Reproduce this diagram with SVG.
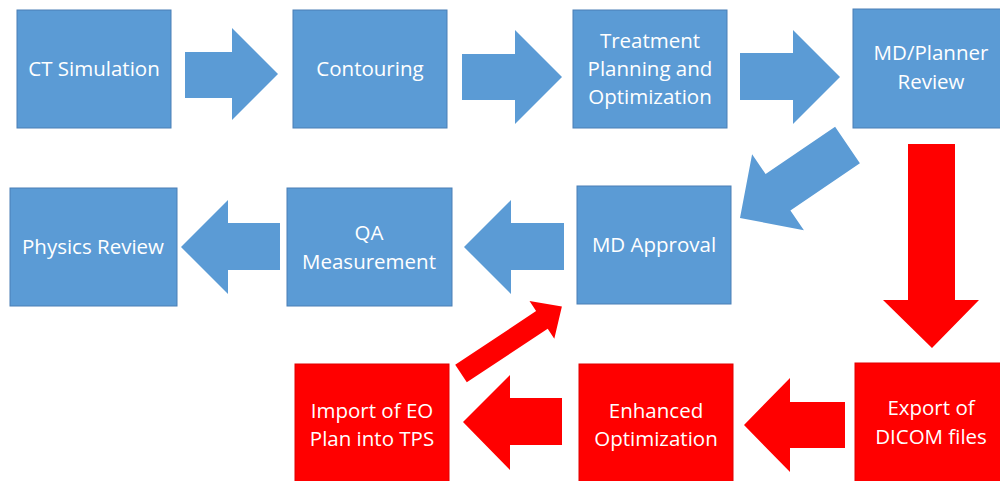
<svg xmlns="http://www.w3.org/2000/svg" width="1000" height="481" viewBox="0 0 1000 481">
  <style>
    .blue { fill: #5B9BD5; stroke: #4A7FB5; stroke-width: 1; }
    .red { fill: #FF0000; stroke: #E00000; stroke-width: 1; }
    .arrow-blue { fill: #5B9BD5; }
    .arrow-red { fill: #FF0000; }
    .label { font-family: "Open Sans", "Noto Sans", sans-serif; font-size: 20.5px; fill: #FFFFFF; text-anchor: middle; }
  </style>
  <rect width="1000" height="481" fill="#FFFFFF"/>

  <!-- connectors: block arrows -->
  <g id="connectors">
    <polygon class="arrow-blue" points="185,52 232,52 232,28 278,74 232,120 232,98 185,98"/>
    <polygon class="arrow-blue" points="462,54 515,54 515,30 562,77 515,124 515,100 462,100"/>
    <polygon class="arrow-blue" points="740,53 793,53 793,30 840,77 793,124 793,100 740,100"/>
    <polygon class="arrow-blue" points="835.1,126.8 765.6,174 752.1,154.2 740,218 803.9,230.2 790.4,210.4 859.9,163.2"/>
    <polygon class="arrow-blue" points="564,223 511,223 511,200 464,247 511,294 511,270 564,270"/>
    <polygon class="arrow-blue" points="280,223 228,223 228,200 181,247 228,294 228,270 280,270"/>
    <polygon class="arrow-red" points="908,144 955,144 955,300 979,300 932,348 883,300 908,300"/>
    <polygon class="arrow-red" points="845,402 790,402 790,378 744,425 790,472 790,448 845,448"/>
    <polygon class="arrow-red" points="562,398 510,398 510,375 463,422 510,470 510,445 562,445"/>
    <polygon class="arrow-red" points="455.2,364.7 536.1,311.1 529.5,301.1 561.9,306.6 554.3,338.7 547.7,328.7 466.8,382.3"/>
  </g>

  <!-- blue process steps -->
  <g id="ct-simulation">
    <rect class="blue" x="17" y="10" width="154" height="118"/>
    <text class="label" x="94" y="76">CT Simulation</text>
  </g>
  <g id="contouring">
    <rect class="blue" x="293" y="10" width="154" height="118"/>
    <text class="label" x="370" y="76">Contouring</text>
  </g>
  <g id="treatment-planning">
    <rect class="blue" x="573" y="10" width="154" height="118"/>
    <text class="label" x="650" y="48">Treatment</text>
    <text class="label" x="650" y="76">Planning and</text>
    <text class="label" x="650" y="104">Optimization</text>
  </g>
  <g id="md-planner-review">
    <rect class="blue" x="853" y="9" width="154" height="119"/>
    <text class="label" x="931" y="60">MD/Planner</text>
    <text class="label" x="931" y="89">Review</text>
  </g>
  <g id="md-approval">
    <rect class="blue" x="577" y="186" width="154" height="118"/>
    <text class="label" x="654" y="252">MD Approval</text>
  </g>
  <g id="qa-measurement">
    <rect class="blue" x="287" y="188" width="165" height="118"/>
    <text class="label" x="369" y="240">QA</text>
    <text class="label" x="369" y="269">Measurement</text>
  </g>
  <g id="physics-review">
    <rect class="blue" x="10" y="188" width="167" height="118"/>
    <text class="label" x="93" y="254">Physics Review</text>
  </g>

  <!-- red enhanced-optimization steps -->
  <g id="export-dicom">
    <rect class="red" x="855" y="363" width="152" height="125"/>
    <text class="label" x="931" y="415">Export of</text>
    <text class="label" x="931" y="444">DICOM files</text>
  </g>
  <g id="enhanced-optimization">
    <rect class="red" x="579" y="364" width="154" height="124"/>
    <text class="label" x="656" y="418">Enhanced</text>
    <text class="label" x="656" y="446">Optimization</text>
  </g>
  <g id="import-eo-plan">
    <rect class="red" x="295" y="364" width="154" height="124"/>
    <text class="label" x="372" y="418">Import of EO</text>
    <text class="label" x="372" y="446">Plan into TPS</text>
  </g>
</svg>
